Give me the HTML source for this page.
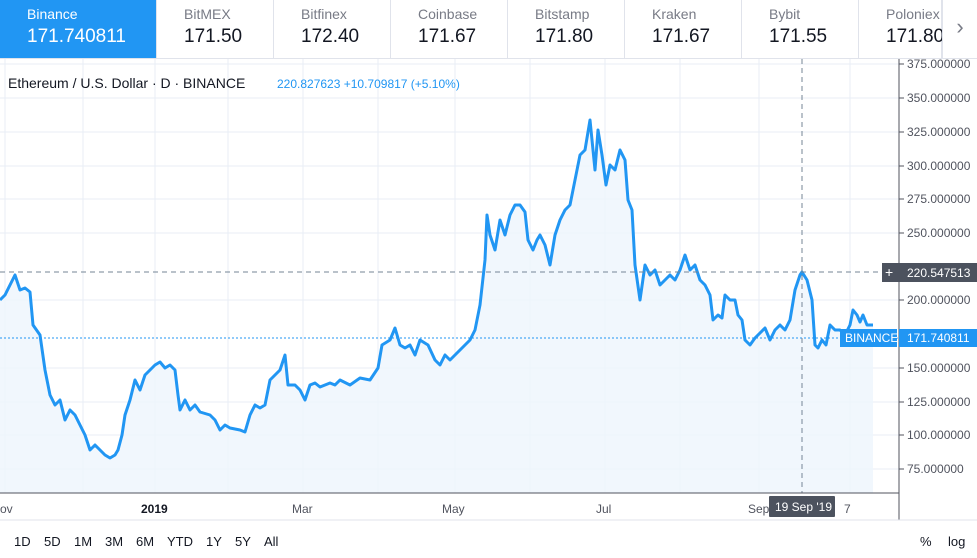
<!DOCTYPE html><html><head><style>
body{margin:0;width:977px;height:558px;overflow:hidden;background:#fff;font-family:"Liberation Sans",sans-serif;position:relative}
.tabs{position:absolute;top:0;left:0;width:977px;height:58px;border-bottom:1px solid #e0e3eb;display:flex}
.tab{width:117px;border-right:1px solid #e0e3eb;padding:6px 0 0 27px;box-sizing:border-box;color:#131722}
.tab .n{font-size:14px;color:#787b86}.tab .p{font-size:19px;margin-top:4px}
.tab.a{background:#2196f3;width:157px;color:#fff}.tab.a .n{color:#fff}
</style></head><body>
<div class="tabs">
<div class="tab a"><div class="n">Binance</div><div class="p">171.740811</div></div>
<div class="tab"><div class="n">BitMEX</div><div class="p">171.50</div></div>
<div class="tab"><div class="n">Bitfinex</div><div class="p">172.40</div></div>
<div class="tab"><div class="n">Coinbase</div><div class="p">171.67</div></div>
<div class="tab"><div class="n">Bitstamp</div><div class="p">171.80</div></div>
<div class="tab"><div class="n">Kraken</div><div class="p">171.67</div></div>
<div class="tab"><div class="n">Bybit</div><div class="p">171.55</div></div>
<div class="tab" style="width:83px"><div class="n">Poloniex</div><div class="p">171.80</div></div>
<div style="flex:1;background:#fff;border-left:1px solid #e0e3eb;color:#787b86;font-size:22px;text-align:center;padding-top:14px">›</div>
</div>
<svg width="977" height="558" style="position:absolute;top:0;left:0" font-family="Liberation Sans,sans-serif">
<g stroke="#e9eef5" stroke-width="1">
<line x1="0" y1="64" x2="899" y2="64"/><line x1="0" y1="98" x2="899" y2="98"/><line x1="0" y1="132" x2="899" y2="132"/><line x1="0" y1="166" x2="899" y2="166"/><line x1="0" y1="199" x2="899" y2="199"/><line x1="0" y1="233" x2="899" y2="233"/><line x1="0" y1="300" x2="899" y2="300"/><line x1="0" y1="368" x2="899" y2="368"/><line x1="0" y1="402" x2="899" y2="402"/><line x1="0" y1="435" x2="899" y2="435"/><line x1="0" y1="469" x2="899" y2="469"/>
<line x1="5" y1="59" x2="5" y2="493"/><line x1="83" y1="59" x2="83" y2="493"/><line x1="155" y1="59" x2="155" y2="493"/><line x1="228" y1="59" x2="228" y2="493"/><line x1="303" y1="59" x2="303" y2="493"/><line x1="378" y1="59" x2="378" y2="493"/><line x1="455" y1="59" x2="455" y2="493"/><line x1="530" y1="59" x2="530" y2="493"/><line x1="605" y1="59" x2="605" y2="493"/><line x1="680" y1="59" x2="680" y2="493"/><line x1="759" y1="59" x2="759" y2="493"/><line x1="850" y1="59" x2="850" y2="493"/>
</g>
<polygon fill="#eef5fd" fill-opacity="0.8" points="0,493 0,300 5,295 10,285 15,275 20,290 25,288 30,292 33,325 40,335 45,370 50,395 55,405 60,400 65,420 70,410 75,415 80,425 85,435 90,450 95,445 100,450 105,455 110,458 115,455 118,450 122,435 125,415 130,400 135,380 140,390 145,375 150,370 155,365 160,362 165,368 170,365 175,370 178,395 180,410 185,400 190,410 195,405 200,412 210,415 215,420 220,430 225,425 230,428 240,430 245,432 250,415 255,405 260,408 265,405 270,380 275,375 280,370 285,355 288,385 295,385 300,390 305,400 310,385 315,383 320,387 330,383 335,385 340,380 350,385 360,378 370,380 378,368 382,345 390,340 395,328 400,345 405,348 410,345 415,355 420,340 428,345 435,360 440,365 445,355 450,360 455,355 460,350 465,345 470,340 475,330 480,305 485,260 487,215 490,235 495,250 500,220 505,235 510,215 515,205 520,205 525,212 528,240 533,250 537,240 540,235 545,245 550,265 555,235 560,220 565,210 570,205 575,180 580,155 585,150 590,120 595,170 598,130 602,155 606,185 610,165 615,170 620,150 625,160 628,200 632,210 635,265 640,300 645,265 650,275 655,270 660,285 665,280 670,275 675,280 680,270 685,255 690,270 695,265 700,280 705,285 710,295 713,320 718,315 722,318 725,295 730,300 735,300 738,315 742,320 745,340 750,345 755,338 760,333 765,328 770,340 775,330 780,325 785,330 790,320 795,290 800,275 802,272 807,280 812,300 815,345 818,348 822,340 826,345 830,325 835,330 840,330 845,335 850,325 853,310 857,315 860,322 863,315 867,325 873,325 873,493"/>
<polyline fill="none" stroke="#2196f3" stroke-width="3" stroke-linejoin="round" points="0,300 5,295 10,285 15,275 20,290 25,288 30,292 33,325 40,335 45,370 50,395 55,405 60,400 65,420 70,410 75,415 80,425 85,435 90,450 95,445 100,450 105,455 110,458 115,455 118,450 122,435 125,415 130,400 135,380 140,390 145,375 150,370 155,365 160,362 165,368 170,365 175,370 178,395 180,410 185,400 190,410 195,405 200,412 210,415 215,420 220,430 225,425 230,428 240,430 245,432 250,415 255,405 260,408 265,405 270,380 275,375 280,370 285,355 288,385 295,385 300,390 305,400 310,385 315,383 320,387 330,383 335,385 340,380 350,385 360,378 370,380 378,368 382,345 390,340 395,328 400,345 405,348 410,345 415,355 420,340 428,345 435,360 440,365 445,355 450,360 455,355 460,350 465,345 470,340 475,330 480,305 485,260 487,215 490,235 495,250 500,220 505,235 510,215 515,205 520,205 525,212 528,240 533,250 537,240 540,235 545,245 550,265 555,235 560,220 565,210 570,205 575,180 580,155 585,150 590,120 595,170 598,130 602,155 606,185 610,165 615,170 620,150 625,160 628,200 632,210 635,265 640,300 645,265 650,275 655,270 660,285 665,280 670,275 675,280 680,270 685,255 690,270 695,265 700,280 705,285 710,295 713,320 718,315 722,318 725,295 730,300 735,300 738,315 742,320 745,340 750,345 755,338 760,333 765,328 770,340 775,330 780,325 785,330 790,320 795,290 800,275 802,272 807,280 812,300 815,345 818,348 822,340 826,345 830,325 835,330 840,330 845,335 850,325 853,310 857,315 860,322 863,315 867,325 873,325"/>
<line x1="0" y1="338" x2="899" y2="338" stroke="#2196f3" stroke-dasharray="2,2"/>
<line x1="0" y1="272" x2="899" y2="272" stroke="#758696" stroke-dasharray="5,4"/>
<line x1="802" y1="59" x2="802" y2="493" stroke="#758696" stroke-dasharray="5,4"/>
<line x1="899" y1="59" x2="899" y2="520" stroke="#50535e"/>
<line x1="0" y1="493" x2="899" y2="493" stroke="#50535e"/>
<line x1="0" y1="520" x2="977" y2="520" stroke="#e0e3eb"/>
<text x="8" y="88" font-size="14" fill="#131722">Ethereum / U.S. Dollar · D · BINANCE</text>
<text x="277" y="88" font-size="12" fill="#2196f3">220.827623  +10.709817 (+5.10%)</text>
<g font-size="12" fill="#50535e">
<text x="907" y="68">375.000000</text><text x="907" y="102">350.000000</text><text x="907" y="136">325.000000</text><text x="907" y="170">300.000000</text><text x="907" y="203">275.000000</text><text x="907" y="237">250.000000</text><text x="907" y="304">200.000000</text><text x="907" y="372">150.000000</text><text x="907" y="406">125.000000</text><text x="907" y="439">100.000000</text><text x="907" y="473">75.000000</text>
</g>
<g stroke="#50535e"><line x1="899" y1="64" x2="904" y2="64"/><line x1="899" y1="98" x2="904" y2="98"/><line x1="899" y1="132" x2="904" y2="132"/><line x1="899" y1="166" x2="904" y2="166"/><line x1="899" y1="199" x2="904" y2="199"/><line x1="899" y1="233" x2="904" y2="233"/><line x1="899" y1="300" x2="904" y2="300"/><line x1="899" y1="368" x2="904" y2="368"/><line x1="899" y1="402" x2="904" y2="402"/><line x1="899" y1="435" x2="904" y2="435"/><line x1="899" y1="469" x2="904" y2="469"/></g>
<rect x="882" y="263" width="95" height="19" fill="#4c525e"/>
<text x="885" y="277" font-size="14" fill="#fff">+</text>
<text x="907" y="277" font-size="12" fill="#fff">220.547513</text>
<rect x="840" y="329" width="57" height="18" fill="#2196f3"/>
<text x="845" y="342" font-size="12" fill="#fff">BINANCE</text>
<rect x="899" y="329" width="78" height="18" fill="#2196f3"/>
<text x="907" y="342" font-size="12" fill="#fff">171.740811</text>
<g font-size="12" fill="#50535e">
<text x="0" y="513">ov</text><text x="141" y="513" font-weight="bold" fill="#131722">2019</text><text x="292" y="513">Mar</text><text x="442" y="513">May</text><text x="596" y="513">Jul</text><text x="748" y="513">Sep</text><text x="844" y="513">7</text>
</g>
<rect x="769" y="496" width="66" height="21" fill="#4c525e" rx="1"/>
<text x="775" y="511" font-size="12" fill="#fff">19 Sep '19</text>
<g font-size="13" fill="#131722">
<text x="14" y="546">1D</text><text x="44" y="546">5D</text><text x="74" y="546">1M</text><text x="105" y="546">3M</text><text x="136" y="546">6M</text><text x="167" y="546">YTD</text><text x="206" y="546">1Y</text><text x="235" y="546">5Y</text><text x="264" y="546">All</text>
<text x="920" y="546">%</text><text x="948" y="546">log</text>
</g>
</svg>
</body></html>
